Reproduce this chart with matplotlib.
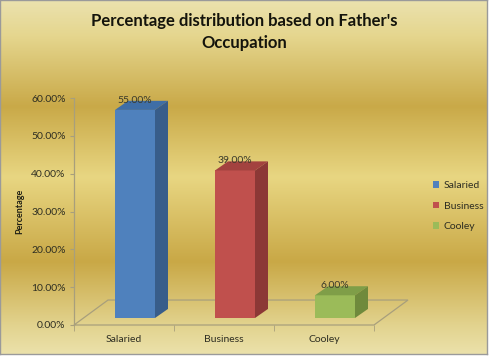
import numpy as np
import matplotlib
matplotlib.use("Agg")
import matplotlib.pyplot as plt
from matplotlib.colors import LinearSegmentedColormap
from matplotlib.patches import Polygon

categories = ["Salaried", "Business", "Cooley"]
values = [55.0, 39.0, 6.0]
yticks = [0, 10, 20, 30, 40, 50, 60]

front_cols = ["#4f81bd", "#c0504d", "#9bbb59"]
side_cols = ["#385d8a", "#8c3836", "#6f8a3c"]
top_cols = ["#3f6ea6", "#a3423f", "#7f9e48"]

plt.rcParams['font.family'] = ['Lato', 'DejaVu Sans']

W, H = 493, 358
fig = plt.figure(figsize=(W / 100, H / 100), dpi=100, facecolor="white")

# gold gradient background
bg = fig.add_axes([0, 4 / H, 487 / W, 354 / H])
stops = [(0.0, "#ebe2ae"), (0.10, "#e5d68e"), (0.30, "#c9a948"), (0.50, "#e8d682"),
         (0.74, "#c9a846"), (0.92, "#e2d38e"), (1.0, "#ebe1aa")]
cmap = LinearSegmentedColormap.from_list("gold", stops)
grad = np.linspace(0, 1, 256).reshape(-1, 1)
bg.imshow(grad, aspect="auto", cmap=cmap, extent=[0, 1, 1, 0])
bg.set_xlim(0, 1)
bg.set_ylim(1, 0)
bg.set_xticks([])
bg.set_yticks([])
for s in bg.spines.values():
    s.set_color("#9a9a9a")
    s.set_linewidth(1)

ax = fig.add_axes([74 / W, 33 / H, 300 / W, 227 / H])
ax.patch.set_alpha(0)
ax.set_xlim(-0.5, 2.5)
ax.set_ylim(0, 60)

# pseudo 3d geometry (axis units)
fdx, fdy = 0.34, 6.6      # floor depth
ox, oy = 0.11, 1.85       # bar offset inside depth
bw = 0.40
ddx, ddy = 0.13, 2.4      # bar depth
line_col = "#a89f7c"

floor = Polygon([(-0.5, 0), (2.5, 0), (2.5 + fdx, fdy), (-0.5 + fdx, fdy)],
                closed=True, fill=False, edgecolor=line_col, lw=0.9, clip_on=False)
ax.add_patch(floor)

x = np.arange(len(categories))
bars = ax.bar(x + ox, values, width=bw, bottom=oy, color=front_cols, zorder=3)
for i, v in enumerate(values):
    x0 = x[i] + ox - bw / 2
    x1 = x0 + bw
    yb, yt = oy, oy + v
    ax.add_patch(Polygon([(x0, yt), (x1, yt), (x1 + ddx, yt + ddy), (x0 + ddx, yt + ddy)],
                         closed=True, facecolor=top_cols[i], edgecolor="none", zorder=3, clip_on=False))
    ax.add_patch(Polygon([(x1, yb), (x1 + ddx, yb + ddy), (x1 + ddx, yt + ddy), (x1, yt)],
                         closed=True, facecolor=side_cols[i], edgecolor="none", zorder=3, clip_on=False))
    ax.text(x[i] + ox, yt + 2.6, f"{v:.2f}%", ha="center", va="center",
            fontsize=7.5, color="#3a3a2a", zorder=4)

for s in ["top", "right", "bottom"]:
    ax.spines[s].set_visible(False)
ax.spines["left"].set_color(line_col)
ax.spines["left"].set_linewidth(0.9)

ax.set_yticks(yticks)
ax.set_yticklabels([f"{t:.2f}%" for t in yticks])
ax.tick_params(axis="y", direction="out", length=3, color=line_col, labelsize=7.5,
               labelcolor="#2e2e22", pad=3)
ax.set_xticks(x)
ax.set_xticklabels(categories)
ax.tick_params(axis="x", length=0, labelsize=7.5, labelcolor="#2e2e22", pad=7)
ax.set_xticks([-0.5, 0.5, 1.5, 2.5], minor=True)
ax.tick_params(axis="x", which="minor", length=4, color=line_col, direction="out")

ax.set_ylabel("Percentage", fontsize=6.5, fontweight="bold", color="#1e1e14")
ax.yaxis.set_label_coords(-50 / 300, 0.5)

fig.text(244 / W, 1 - 32 / H, "Percentage distribution based on Father's\nOccupation",
         ha="center", va="center", fontsize=12, fontweight="bold", color="#14140c",
         linespacing=1.45)

leg = ax.legend(bars, categories, loc="center left",
                bbox_to_anchor=(428 / W, 1 - 206 / H), bbox_transform=fig.transFigure,
                frameon=False, fontsize=7.5, handlelength=0.6, handleheight=0.6,
                handletextpad=0.4, labelspacing=1.1, borderpad=0)
for t in leg.get_texts():
    t.set_color("#2e2e22")

fig.savefig("out.png", dpi=100, facecolor="white")
